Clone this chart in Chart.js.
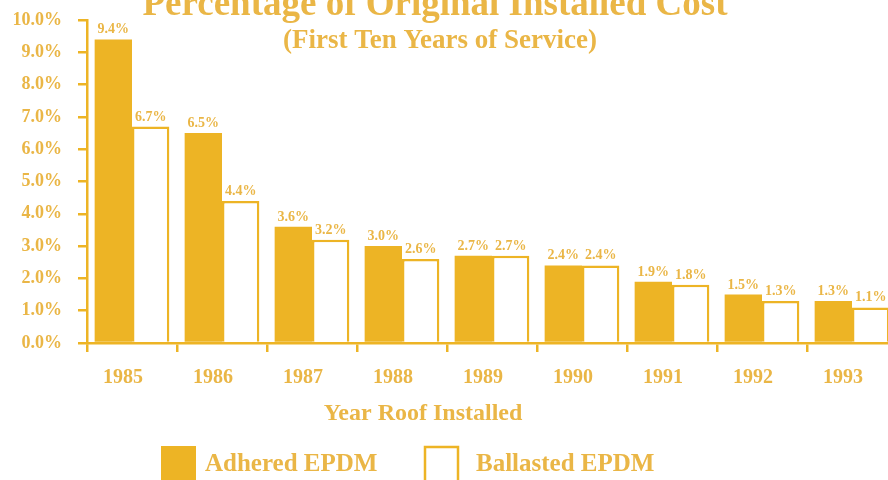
<!DOCTYPE html>
<html lang="en">
<head>
  <meta charset="UTF-8">
  <title>Percentage of Original Installed Cost</title>
  <script src="https://cdn.jsdelivr.net/npm/chart.js"></script>
  <style>
    html, body { margin: 0; padding: 0; background: #fff; overflow: hidden; }
    /* the plot runs a little past the right edge, as in the original */
    #wrap { width: 897px; height: 480px; position: relative; }
  </style>
</head>
<body>
  <div id="wrap"><canvas id="costChart"></canvas></div>

  <script>
    // data
    const years = ["1985", "1986", "1987", "1988", "1989", "1990", "1991", "1992", "1993"];
    const adhered = [9.4, 6.5, 3.6, 3.0, 2.7, 2.4, 1.9, 1.5, 1.3];
    const ballasted = [6.7, 4.4, 3.2, 2.6, 2.7, 2.4, 1.8, 1.3, 1.1];
    const seriesNames = ["Adhered EPDM", "Ballasted EPDM"];

    const GOLD = "#EDB425";
    const TEXT = "#EAB646";
    const SERIF = "'Liberation Serif', 'Times New Roman', serif";

    // titles, value labels and legend drawn on the canvas
    const decorations = {
      id: "decorations",
      afterDatasetsDraw(chart) {
        const ctx = chart.ctx;
        ctx.save();
        ctx.fillStyle = TEXT;
        ctx.textAlign = "center";
        ctx.textBaseline = "alphabetic";
        ctx.font = "bold 14px " + SERIF;
        chart.data.datasets.forEach((ds, i) => {
          chart.getDatasetMeta(i).data.forEach((bar, j) => {
            ctx.fillText(ds.data[j].toFixed(1) + "%", bar.x, bar.y - 6);
          });
        });
        ctx.restore();
      },
      afterDraw(chart) {
        const ctx = chart.ctx;
        ctx.save();
        ctx.fillStyle = TEXT;
        ctx.textAlign = "center";
        ctx.textBaseline = "alphabetic";
        ctx.font = "bold 37px " + SERIF;
        ctx.fillText("Percentage of Original Installed Cost", 435, 15);
        ctx.font = "bold 27px " + SERIF;
        ctx.fillText("(First Ten Years of Service)", 440, 48);
        ctx.font = "bold 24px " + SERIF;
        ctx.fillText("Year Roof Installed", 423, 420);

        // legend
        ctx.textAlign = "left";
        ctx.font = "bold 25px " + SERIF;
        ctx.fillStyle = GOLD;
        ctx.fillRect(161, 446, 35, 36);
        ctx.strokeStyle = GOLD;
        ctx.lineWidth = 2.5;
        ctx.strokeRect(425, 447, 33, 36);
        ctx.fillStyle = TEXT;
        ctx.fillText(seriesNames[0], 205, 471);
        ctx.fillText(seriesNames[1], 476, 471);
        ctx.restore();
      }
    };

    new Chart(document.getElementById("costChart"), {
      type: "bar",
      data: {
        labels: years,
        datasets: [
          {
            label: seriesNames[0],
            data: adhered,
            backgroundColor: GOLD,
            borderWidth: 0
          },
          {
            label: seriesNames[1],
            data: ballasted,
            backgroundColor: "#FFFFFF",
            borderColor: GOLD,
            borderWidth: 2.5
          }
        ]
      },
      options: {
        responsive: true,
        maintainAspectRatio: false,
        animation: false,
        layout: { padding: { top: 20, right: 0, left: 0, bottom: 0 } },
        datasets: { bar: { categoryPercentage: 0.83, barPercentage: 1.0 } },
        plugins: {
          legend: { display: false },
          title: { display: false },
          tooltip: { enabled: false }
        },
        scales: {
          x: {
            afterFit(scale) { scale.height = 137; },
            grid: { drawOnChartArea: false, color: GOLD, lineWidth: 2.5, tickLength: 9 },
            border: { color: GOLD, width: 2.5 },
            ticks: {
              color: TEXT,
              font: { family: SERIF, size: 20, weight: "bold" },
              padding: 14,
              labelOffset: -9,
              maxRotation: 0
            }
          },
          y: {
            min: 0,
            max: 10,
            afterFit(scale) {
              scale.width = 87;
              scale.paddingTop = 0;
              scale.paddingBottom = 0;
            },
            grid: { drawOnChartArea: false, color: GOLD, lineWidth: 2.5, tickLength: 9 },
            border: { color: GOLD, width: 2.5 },
            ticks: {
              stepSize: 1,
              color: TEXT,
              font: { family: SERIF, size: 18, weight: "bold" },
              padding: 16,
              callback: (v) => v.toFixed(1) + "%"
            }
          }
        }
      },
      plugins: [decorations]
    });
  </script>
</body>
</html>
